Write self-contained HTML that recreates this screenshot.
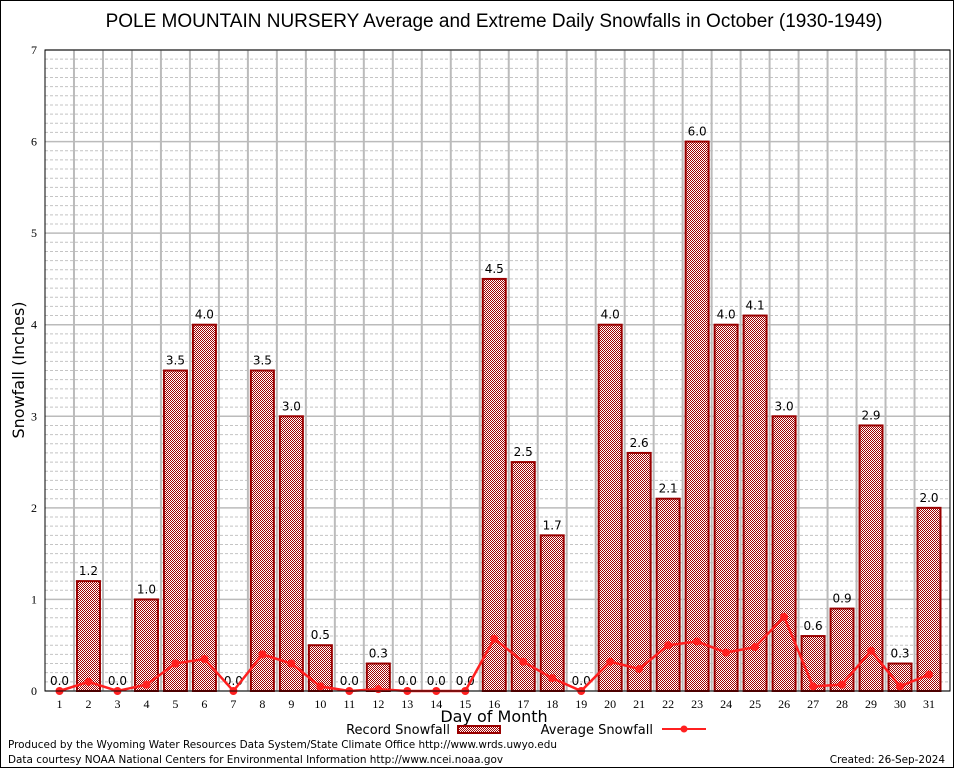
<!DOCTYPE html>
<html><head><meta charset="utf-8"><style>
body{margin:0;background:#fff}
svg{display:block;font-family:"DejaVu Sans","Liberation Sans",sans-serif}
</style></head><body>
<svg id="c" width="954" height="768" viewBox="0 0 954 768">
<defs><pattern id="chk" width="2" height="2" patternUnits="userSpaceOnUse"><rect width="2" height="2" fill="#fff"/><rect width="1" height="1" fill="#a00000"/><rect x="1" y="1" width="1" height="1" fill="#a00000"/></pattern></defs>
<rect x="0.5" y="0.5" width="953" height="767" fill="#fff" stroke="#000"/>
<text x="494" y="27" font-size="19" text-anchor="middle" font-family="Liberation Sans, sans-serif">POLE MOUNTAIN NURSERY Average and Extreme Daily Snowfalls in October (1930-1949)</text>
<g id="grid"></g><g id="bars"></g><g id="line"></g><g id="axes"></g>
<text x="24" y="370" font-size="16" text-anchor="middle" transform="rotate(-90 24 370)">Snowfall (Inches)</text>
<text x="494" y="722" font-size="16" text-anchor="middle">Day of Month</text>
<g>
<text x="450" y="734" font-size="13" text-anchor="end">Record Snowfall</text>
<rect x="458" y="726" width="42" height="7" fill="url(#chk)" stroke="#990000" stroke-width="2"/>
<text x="653" y="734" font-size="13" text-anchor="end">Average Snowfall</text>
<line x1="662" y1="729" x2="706" y2="729" stroke="#ff2020" stroke-width="2"/>
<circle cx="684" cy="729" r="3.5" fill="#ff2020"/>
</g>
<text x="8" y="748" font-size="10.45">Produced by the Wyoming Water Resources Data System/State Climate Office http://www.wrds.uwyo.edu</text>
<text x="8" y="763" font-size="10.45">Data courtesy NOAA National Centers for Environmental Information http://www.ncei.noaa.gov</text>
<text x="945" y="763" font-size="10.45" text-anchor="end">Created: 26-Sep-2024</text>
</svg>
<script>
const days=[1,2,3,4,5,6,7,8,9,10,11,12,13,14,15,16,17,18,19,20,21,22,23,24,25,26,27,28,29,30,31];
const recordValues=[0,1.2,0,1.0,3.5,4.0,0,3.5,3.0,0.5,0,0.3,0,0,0,4.5,2.5,1.7,0,4.0,2.6,2.1,6.0,4.0,4.1,3.0,0.6,0.9,2.9,0.3,2.0];
const averageValues=[0,0.1,0,0.07,0.3,0.35,0,0.4,0.3,0.05,0,0.02,0,0,0,0.57,0.32,0.14,0,0.32,0.24,0.5,0.54,0.42,0.48,0.81,0.05,0.07,0.44,0.05,0.18];
const yTicks=[0,1,2,3,4,5,6,7];
const NS="http://www.w3.org/2000/svg";
const L=45,R=950,T=50,B=691,yMax=7;
const x=d=>59.5+(d-1)*(929-59.5)/30;
const y=v=>B-(v/yMax)*(B-T);
function mk(tag,attrs,parent,text){const e=document.createElementNS(NS,tag);for(const k in attrs)e.setAttribute(k,attrs[k]);if(text!==undefined)e.textContent=text;document.getElementById(parent).appendChild(e);return e;}
for(let v=0;v<yMax;v+=0.1){if(Math.abs(v-Math.round(v))<0.01)continue;
const g=mk('line',{x1:L,x2:R,y1:y(v),y2:y(v),stroke:'#c4c4c4','stroke-dasharray':'3,2','stroke-width':1},'grid');

}
yTicks.forEach(t=>{const g=mk('line',{x1:L,x2:R,y1:y(t),y2:y(t),stroke:'#bbb','stroke-width':1.5},'grid');


const lb=mk('text',{x:L-8,y:y(t)+4,'font-size':12,'text-anchor':'end','font-family':'Liberation Serif, serif'},'axes',String(t));

});
for(let i=0;i<days.length-1;i++){const xm=(x(days[i])+x(days[i+1]))/2;
const g=mk('line',{x1:xm,x2:xm,y1:T,y2:B,stroke:'#bbb','stroke-width':2},'grid');

}
days.forEach((d,i)=>{const v=recordValues[i];
if(v>0){const b=mk('rect',{x:x(d)-11.5,y:y(v),width:23,height:B-y(v),fill:'url(#chk)',stroke:'#990000','stroke-width':2},'bars');

}
const t=mk('text',{x:x(d),y:y(v)-6,'font-size':12,'text-anchor':'middle'},'bars',v.toFixed(1));


const xl=mk('text',{x:x(d),y:B+17,'font-size':12,'text-anchor':'middle','font-family':'Liberation Serif, serif'},'axes',String(d));

});
const pl=mk('polyline',{points:days.map((d,i)=>x(d)+','+y(averageValues[i])).join(' '),fill:'none',stroke:'#ff2020','stroke-width':2.5},'line');


days.forEach((d,i)=>{const c=mk('circle',{cx:x(d),cy:y(averageValues[i]),r:4,fill:'#ff2020'},'line');

});
const ax=mk('rect',{x:L,y:T,width:R-L,height:B-T,fill:'none',stroke:'#000','stroke-width':1},'axes');


</script>
</body></html>
